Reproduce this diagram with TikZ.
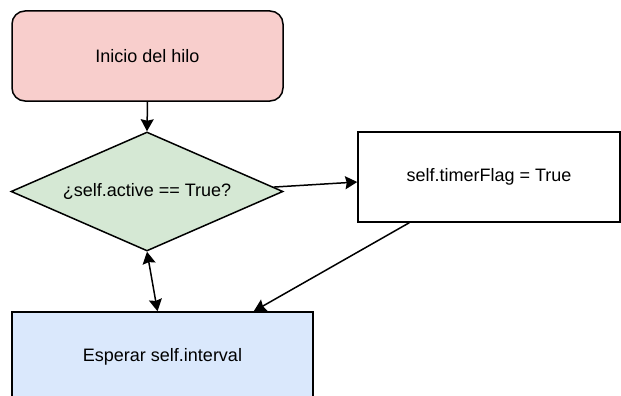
\documentclass[tikz,border=0pt]{standalone}
\usepackage{fontspec}
\setmainfont{Liberation Sans}
\usepackage{tikz}
\usetikzlibrary{calc}
\usetikzlibrary{shapes.geometric}
\usetikzlibrary{arrows.meta}

\definecolor{rojo}{HTML}{F8CECC}
\definecolor{verde}{HTML}{D5E8D4}
\definecolor{azul}{HTML}{DAE8FC}

\begin{document}
\begin{tikzpicture}[x=1pt,y=-1pt,
  font=\fontsize{18}{21}\selectfont,
  >={Stealth[length=12pt,width=13pt,inset=1.5pt]},
  caja/.style={draw,line width=1.5pt,inner sep=0pt,minimum height=90pt},
  rombo/.style={draw,diamond,line width=1.5pt,inner sep=0pt,aspect=2.29},
  flecha/.style={line width=1.5pt}]
\clip (0,0) rectangle (621,396);

\node[caja,rounded corners=13pt,fill=rojo,minimum width=271pt] (inicio) at (147.5,56) {Inicio del hilo};
\node[rombo,fill=verde,minimum width=272pt,minimum height=119pt] (pregunta) at (147,191.5) {¿self.active == True?};
\node[caja,fill=white,minimum width=262pt] (flag) at (489,177) {self.timerFlag = True};
\node[caja,fill=azul,minimum width=301pt] (esperar) at (162.5,357) {Esperar self.interval};

\def\desp{5}

\draw[flecha,->] (inicio.south) -- (pregunta.north);
\draw[flecha,->] (pregunta.2) -- ($(flag.west)+(0,\desp)$);
\draw[flecha,->] ($(flag.south west)+(52,0)$) -- ($(esperar.north east)+(-60,0)$);
\draw[flecha,<->] (pregunta.south) -- ($(esperar.north)+(-\desp,0)$);

\end{tikzpicture}
\end{document}
